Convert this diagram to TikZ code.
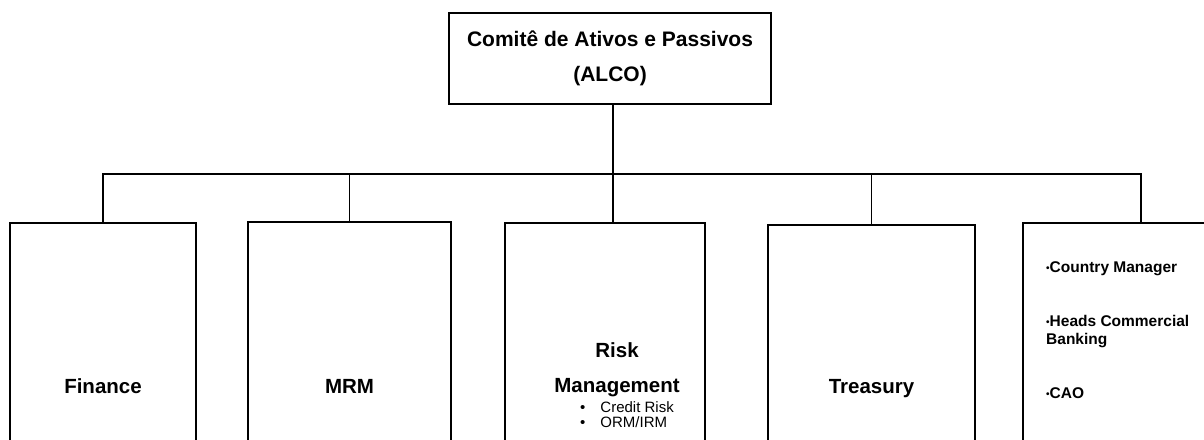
\documentclass[tikz,border=0pt]{standalone}
\usepackage{fontspec}
\setmainfont{Liberation Sans}
\usetikzlibrary{positioning}
\tikzstyle{board} = [draw,line width=1.6pt,minimum width=322pt,minimum height=91pt,anchor=north,align=center,inner sep=0pt,font=\bfseries\fontsize{21}{35}\selectfont]
\tikzstyle{unit} = [draw,line width=1.6pt,anchor=north,inner sep=0pt,font=\bfseries\fontsize{20.5}{24}\selectfont]
\tikzstyle{title} = [text height=14.7pt,text depth=4.3pt]
\tikzstyle{link} = [line width=1.6pt]
\newcommand\dotitem{{\fontsize{10}{10}\selectfont\raisebox{1.2pt}{\textbullet}}}

\begin{document}
\begin{tikzpicture}[x=1pt,y=-1pt]
\useasboundingbox (0,0) rectangle (1204,439);
\clip (0,0) rectangle (1204,439);

\node[board] (alco) at (610,12) {Comitê de Ativos e Passivos\\(ALCO)};

\node[unit,title,minimum width=186pt,minimum height=331.6pt] (finance) at (103,222) {Finance};
\node[unit,title,minimum width=203pt,minimum height=333.6pt] (mrm) at (349.5,221) {MRM};
\node[unit,minimum width=200pt,minimum height=325.8pt] (risk) at (605,222) {\hspace*{24pt}%
  \begin{tabular}{@{}c@{}}Risk\\[11pt]Management\\[-4pt]
  {\normalfont\fontsize{15}{12}\selectfont\hspace*{20pt}%
  \begin{tabular}[t]{@{}l@{\hspace{15pt}}l@{}}\textbullet & Credit Risk\\ \textbullet & ORM/IRM\end{tabular}}
  \end{tabular}};
\node[unit,title,minimum width=207pt,minimum height=327.6pt] (treasury) at (871.5,224) {Treasury};
\node[unit,minimum width=236pt,minimum height=240pt] (heads) at (1141,222) {};
\node[anchor=north west,inner sep=0pt,align=left,font=\bfseries\fontsize{15.5}{18}\selectfont] (members)
  at (1046,261.7) {\dotitem Country Manager\\[36pt]\dotitem Heads Commercial\\Banking\\[36pt]\dotitem CAO};

% connectors
\coordinate (bus) at (613,174);
\draw[link] (alco.south -| bus) -- (bus);
\draw[link] (finance.north) |- (bus) -| (heads.north);
\draw[link] (mrm.north) -- (mrm.north |- bus);
\draw[link] (treasury.north) -- (treasury.north |- bus);
\draw[link] (bus) -- (bus |- risk.north);

\end{tikzpicture}
\end{document}
